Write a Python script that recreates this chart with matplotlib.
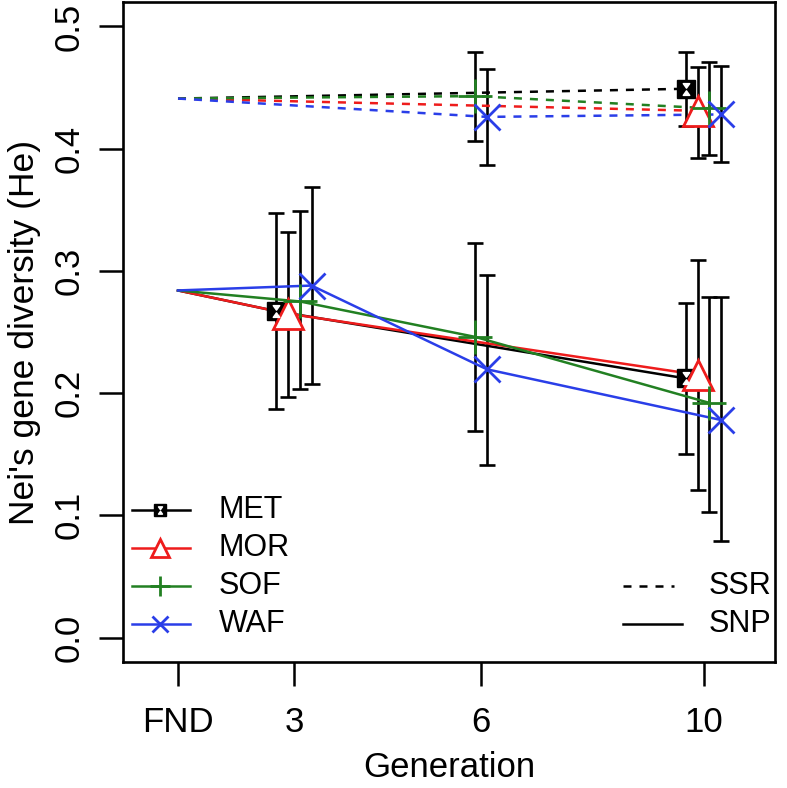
"""Nei's gene diversity (He) across generations, SNP vs SSR."""

import matplotlib
import numpy as np

matplotlib.use("Agg")
import matplotlib.pyplot as plt
from matplotlib.path import Path

plt.rcParams["font.family"] = ["Liberation Sans", "DejaVu Sans"]

# generations and populations
generations = ["FND", "3", "6", "10"]
pops = ["MET", "MOR", "SOF", "WAF"]

# SNP values: generation -> value per population (None = not sampled)
snp_mean = {
    "MET": [0.284, 0.267, None, 0.212],
    "MOR": [0.284, 0.265, None, 0.215],
    "SOF": [0.284, 0.275, 0.246, 0.192],
    "WAF": [0.284, 0.288, 0.2195, 0.178],
}
snp_lo = {
    "MET": [None, 0.187, None, 0.150],
    "MOR": [None, 0.197, None, 0.121],
    "SOF": [None, 0.203, 0.169, 0.103],
    "WAF": [None, 0.2075, 0.141, 0.079],
}
snp_hi = {
    "MET": [None, 0.347, None, 0.274],
    "MOR": [None, 0.332, None, 0.309],
    "SOF": [None, 0.349, 0.3225, 0.279],
    "WAF": [None, 0.369, 0.297, 0.279],
}

# SSR values
ssr_mean = {
    "MET": [0.441, None, None, 0.449],
    "MOR": [0.441, None, None, 0.431],
    "SOF": [0.441, None, 0.443, 0.433],
    "WAF": [0.441, None, 0.426, 0.428],
}
ssr_lo = {
    "MET": [None, None, None, 0.4185],
    "MOR": [None, None, None, 0.392],
    "SOF": [None, None, 0.406, 0.3945],
    "WAF": [None, None, 0.387, 0.389],
}
ssr_hi = {
    "MET": [None, None, None, 0.479],
    "MOR": [None, None, None, 0.467],
    "SOF": [None, None, 0.479, 0.471],
    "WAF": [None, None, 0.465, 0.468],
}

# layout: axis position of each generation and dodge step
gen_x = [0.0, 1.16, 3.03, 5.255]
step = 0.117

colors = {"MET": "black", "MOR": "#ee1c1c", "SOF": "#228022", "WAF": "#2a3ee8"}

# hourglass marker for MET (white triangles on a black square)
hg = Path(
    [(-0.5, 0.9), (0.5, 0.9), (0, 0.2), (-0.5, 0.9),
     (-0.5, -0.9), (0.5, -0.9), (0, -0.2), (-0.5, -0.9)],
    [Path.MOVETO, Path.LINETO, Path.LINETO, Path.CLOSEPOLY,
     Path.MOVETO, Path.LINETO, Path.LINETO, Path.CLOSEPOLY],
)


def positions(mean):
    """x position of each point, dodged among populations present at a generation."""
    out = {p: [None] * len(generations) for p in pops}
    for g in range(len(generations)):
        present = [p for p in pops if mean[p][g] is not None]
        n = len(present)
        for i, p in enumerate(present):
            off = 0.0 if g == 0 else (i - (n - 1) / 2) * step
            out[p][g] = gen_x[g] + off
    return out


def draw_marker(ax, x, y, pop, scale=1.0, **kw):
    if pop == "MET":
        ax.plot(x, y, "s", color="black", ms=13 * scale, zorder=5, **kw)
        ax.plot(x, y, marker=hg, color="white", ms=8.5 * scale, lw=0, zorder=6, **kw)
    elif pop == "MOR":
        ax.plot(x, y, "^", mfc="white", mec=colors[pop], mew=2.0, ms=22 * scale, zorder=5, **kw)
    elif pop == "SOF":
        ax.plot(x, y, "+", color=colors[pop], mew=2.0, ms=24 * scale, zorder=5, **kw)
    else:
        ax.plot(x, y, "x", color=colors[pop], mew=2.0, ms=19 * scale, zorder=5, **kw)


fig = plt.figure(figsize=(7.87, 7.88), dpi=100)
ax = fig.add_axes([123 / 787, 1 - 662 / 788, 652 / 787, 660 / 788])

for mean, lo, hi, ls in [
    (ssr_mean, ssr_lo, ssr_hi, (0, (3.2, 3.2))),
    (snp_mean, snp_lo, snp_hi, "-"),
]:
    xs = positions(mean)
    for p in pops:
        idx = [g for g in range(len(generations)) if mean[p][g] is not None]
        px = np.array([xs[p][g] for g in idx])
        py = np.array([mean[p][g] for g in idx])
        ax.plot(px, py, ls=ls, color=colors[p], lw=1.8, zorder=3)
        for g in idx:
            if lo[p][g] is None:
                continue
            ax.errorbar(xs[p][g], mean[p][g],
                        yerr=[[mean[p][g] - lo[p][g]], [hi[p][g] - mean[p][g]]],
                        fmt="none", ecolor="black", elinewidth=1.9, capsize=6,
                        capthick=1.9, zorder=2)
            draw_marker(ax, xs[p][g], mean[p][g], p)

ax.set_xlim(-0.55, 5.97)
ax.set_ylim(-0.02, 0.52)
ax.set_xticks(gen_x)
ax.set_xticklabels(generations)
ax.set_yticks(np.arange(0, 0.51, 0.1))
ax.set_yticklabels([f"{v:.1f}" for v in np.arange(0, 0.51, 0.1)], rotation=90, va="center")
ax.tick_params(axis="both", direction="out", length=17, width=1.8, labelsize=25)
ax.tick_params(axis="x", pad=15)
ax.tick_params(axis="y", pad=10)
for s in ax.spines.values():
    s.set_linewidth(1.9)
ax.set_xlabel("Generation", fontsize=25, labelpad=8)
ax.set_ylabel("Nei's gene diversity (He)", fontsize=25.5, labelpad=8)

# legend, drawn by hand in axes fraction
rows = [0.2303, 0.1732, 0.1152, 0.0576]
for p, ry in zip(pops, rows):
    ax.plot([0.0138, 0.1028], [ry, ry], color=colors[p], lw=1.8,
            transform=ax.transAxes, clip_on=False)
    draw_marker(ax, 0.0567, ry, p, scale=0.62, transform=ax.transAxes, clip_on=False)
    ax.text(0.147, ry, p, transform=ax.transAxes, fontsize=22, va="center", ha="left")

ax.plot([0.767, 0.845], [rows[2], rows[2]], color="black", lw=1.8, ls=(0, (3.2, 3.2)),
        transform=ax.transAxes)
ax.plot([0.767, 0.857], [rows[3], rows[3]], color="black", lw=1.8, transform=ax.transAxes)
ax.text(0.898, rows[2], "SSR", transform=ax.transAxes, fontsize=22, va="center")
ax.text(0.898, rows[3], "SNP", transform=ax.transAxes, fontsize=22, va="center")

fig.savefig("out.png", dpi=100)
plt.close(fig)
